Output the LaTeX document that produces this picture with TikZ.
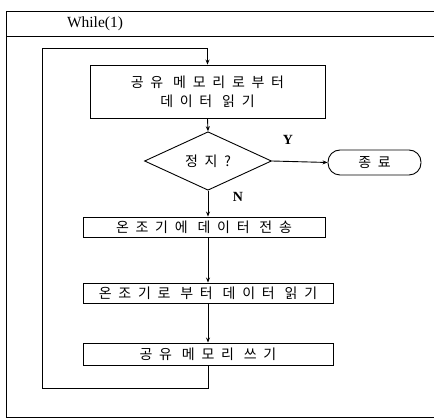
\documentclass[tikz,border=0pt]{standalone}
\usepackage{fontspec}
\setmainfont{Liberation Serif}
\newfontfamily\kr{Noto Sans CJK KR}[LetterSpace=48]
\usetikzlibrary{shapes.geometric,arrows.meta}
\tikzset{
  proc/.style = {rectangle, draw, line width=0.9pt, inner sep=0, font=\kr\fontsize{14}{19}\selectfont, align=center},
  dec/.style  = {diamond, draw, line width=0.9pt, inner sep=0, minimum width=127pt, minimum height=37pt, font=\kr\fontsize{14}{16}\selectfont},
  term/.style = {rectangle, draw, line width=0.9pt, rounded corners=12pt, inner sep=0, minimum width=93pt, minimum height=25pt, font=\kr\fontsize{14}{16}\selectfont},
  flow/.style = {line width=0.9pt, -{Stealth[length=5pt,width=4pt]}},
  frm/.style  = {line width=0.9pt},
  et/.style   = {font=\bfseries\fontsize{14}{16}\selectfont}
}
\begin{document}
\begin{tikzpicture}[x=1pt,y=-1pt]
  \useasboundingbox (0,0) rectangle (434,419);

  \draw[frm] (434,11) -- (6,11) -- (6,417) -- (434,417);
  \draw[frm] (6,36) -- (434,36);
  \node[font=\fontsize{15.5}{17}\selectfont] (wh) at (95,24) {While(1)};

  \node[proc, minimum width=235pt, minimum height=53pt] (rd)  at (207.5,91.5) {공유 메모리로부터\\데이터 읽기};
  \node[dec]  (st)  at (208,161) {정지?};
  \node[term] (ed)  at (374.5,162.5) {종료};
  \node[proc, minimum width=242pt, minimum height=20pt] (snd) at (204,227) {온조기에 데이터 전송};
  \node[proc, minimum width=250pt, minimum height=20pt] (rcv) at (208,293) {온조기로 부터 데이터 읽기};
  \node[proc, minimum width=250pt, minimum height=22pt] (wr)  at (208,354) {공유 메모리 쓰기};

  \coordinate (lb) at (42,388);
  \coordinate (lt) at (42,48);

  \draw[flow] (rd.south) -- (st.north);
  \draw[flow] (st.east) -- (ed.west);
  \node[et] (y) at (288,140) {Y};
  \draw[flow] (st.south) -- (st.south |- snd.north);
  \node[et] (n) at (238,197) {N};
  \draw[flow] (st.south |- snd.south) -- (st.south |- rcv.north);
  \draw[flow] (rcv.south) -- (wr.north);
  \draw[flow] (wr.south) -- (wr.south |- lb) -- (lb) -- (lt) -| (rd.north);
\end{tikzpicture}
\end{document}
